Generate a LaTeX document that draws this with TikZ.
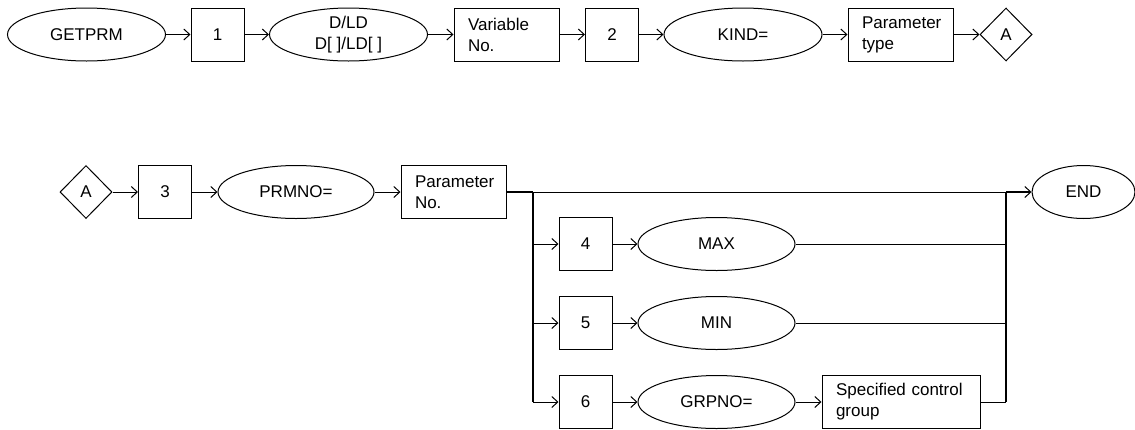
\documentclass[tikz,border=0pt]{standalone}
\usepackage{fontspec}
\setmainfont{Liberation Sans}
\usetikzlibrary{shapes.geometric,arrows.meta}
\begin{document}
\begin{tikzpicture}[x=1pt,y=-1pt,
  every node/.style={font=\fontsize{17}{21}\selectfont, draw, line width=1pt, inner sep=0pt},
  oval/.style={ellipse, minimum width=158pt, minimum height=53pt},
  numbox/.style={rectangle, minimum width=53pt, minimum height=53pt},
  txtbox/.style={rectangle, minimum width=105pt, minimum height=53pt, text width=77pt, inner xsep=14pt, align=left},
  wbox/.style={txtbox, minimum width=158pt, text width=130pt},
  conn/.style={diamond, minimum width=52pt, minimum height=53pt, inner sep=0pt},
  arr/.style={line width=1pt, -{Straight Barb[length=6pt,width=11pt,line width=1pt]}},
  ln/.style={line width=1pt},
  bus/.style={line width=1.7pt}
]
\useasboundingbox (0,0) rectangle (1135,429);
% row 1
\node[oval] (getprm) at (86.5,34.5) {GETPRM};
\node[numbox] (b1) at (217.5,34.5) {1};
\node[oval, align=center] (dld) at (348.5,34.5) {D/LD\\D[ ]/LD[ ]};
\node[txtbox] (var) at (506.5,34.5) {Variable\\No.};
\node[numbox] (b2) at (612,34.5) {2};
\node[oval] (kind) at (743,34.5) {KIND=};
\node[txtbox] (ptype) at (900.5,34.5) {Parameter\\type};
\node[conn] (a1) at (1006,34.5) {A};
\draw[arr] (getprm) -- (b1);
\draw[arr] (b1) -- (dld);
\draw[arr] (dld) -- (var);
\draw[arr] (var) -- (b2);
\draw[arr] (b2) -- (kind);
\draw[arr] (kind) -- (ptype);
\draw[arr] (ptype) -- (a1);
% row 2
\node[conn] (a2) at (86,192) {A};
\node[numbox] (b3) at (165,192) {3};
\node[oval, minimum width=156pt] (prmno) at (296,192) {PRMNO=};
\node[txtbox] (pno) at (453.5,192) {Parameter\\No.};
\node[ellipse, minimum width=103pt, minimum height=53pt] (end) at (1083.5,192) {END};
\draw[arr] (a2) -- (b3);
\draw[arr] (b3) -- (prmno);
\draw[arr] (prmno) -- (pno);
% branches
\node[numbox] (b4) at (585.5,244) {4};
\node[oval, minimum width=157pt] (max) at (716.5,244) {MAX};
\node[numbox] (b5) at (585.5,323) {5};
\node[oval, minimum width=157pt] (min) at (716.5,323) {MIN};
\node[numbox] (b6) at (585.5,402) {6};
\node[oval, minimum width=157pt] (grp) at (716.5,402) {GRPNO=};
\node[wbox] (scg) at (901,402) {Specified control\\group};
\coordinate (sp0) at (533,192);
\coordinate (sp4) at (533,244);
\coordinate (sp5) at (533,323);
\coordinate (sp6) at (533,402);
\coordinate (jn0) at (1006,192);
\coordinate (jn4) at (1006,244);
\coordinate (jn5) at (1006,323);
\coordinate (jn6) at (1006,402);
\draw[bus] (pno.east) -- (sp0);
\draw[ln] (sp0) -- (jn0);
\draw[bus] (sp0) -- (sp6);
\draw[bus] (jn0) -- (jn6);
\draw[arr, line width=1.4pt] (jn0) -- (end);
\draw[arr] (sp4) -- (b4);
\draw[arr] (b4) -- (max);
\draw[ln] (max) -- (jn4);
\draw[arr] (sp5) -- (b5);
\draw[arr] (b5) -- (min);
\draw[ln] (min) -- (jn5);
\draw[arr] (sp6) -- (b6);
\draw[arr] (b6) -- (grp);
\draw[arr] (grp) -- (scg);
\draw[ln] (scg) -- (jn6);
\end{tikzpicture}
\end{document}
